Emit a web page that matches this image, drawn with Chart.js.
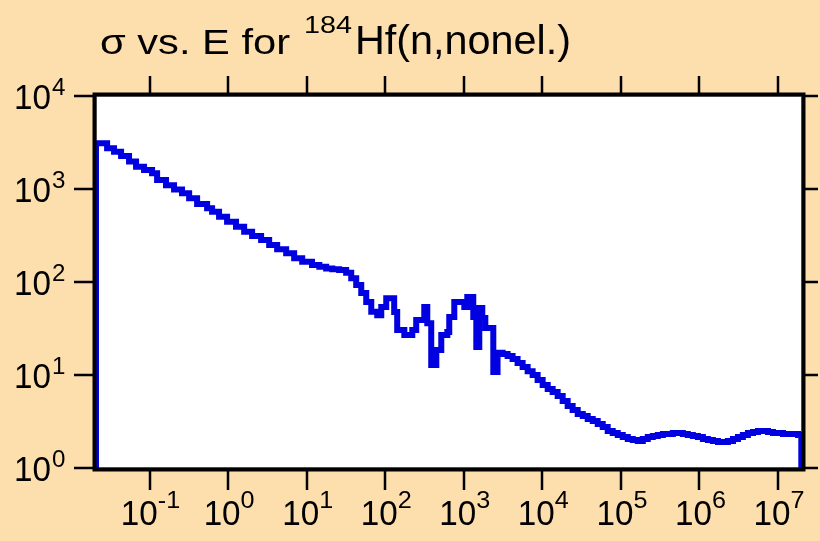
<!DOCTYPE html>
<html>
<head>
<meta charset="utf-8">
<script src="https://cdn.jsdelivr.net/npm/chart.js@4"></script>
<style>
body { margin: 0; background: #fddead; }
canvas { display: block; }
</style>
</head>
<body>
<canvas id="chart" width="820" height="541"></canvas>
<script>
// neutron energy (eV) and nonelastic cross section (b)
const energies = [0.0205, 0.0208, 0.0288, 0.0353, 0.0434, 0.0548, 0.0673, 0.0851, 0.1076, 0.1247,
    0.162, 0.205, 0.259, 0.319, 0.403, 0.540, 0.625, 0.767, 0.97, 1.26,
    1.60, 2.02, 2.63, 3.33, 4.21, 5.48, 6.93, 8.77, 11.7, 14.5,
    17.7, 21.2, 25.9, 31.8, 36.9, 42.7, 49.5, 57.3, 66.4, 79.1,
    89, 103, 130, 142, 175, 221, 248, 314, 343, 385,
    447, 517, 617, 653, 757, 1015, 1108, 1320, 1443, 1575,
    1720, 1880, 2375, 2690, 3120, 3610, 4180, 4840, 5610, 6500,
    7520, 8710, 10090, 11700, 13520, 15670, 18150, 21000, 24300, 28200,
    32700, 37800, 43800, 50700, 58700, 67900, 78700, 91200, 105600, 122300,
    141600, 164000, 190000, 219800, 254700, 295000, 342000, 395600, 458000, 531000,
    615000, 711000, 824000, 955000, 1.106e6, 1.28e6, 1.48e6, 1.72e6, 1.99e6, 2.30e6,
    2.67e6, 3.09e6, 3.57e6, 4.14e6, 4.80e6, 5.56e6, 6.43e6, 7.45e6, 8.63e6, 1.0e7,
    1.157e7, 1.34e7, 1.55e7, 1.80e7, 1.98e7];
const crossSections = [0.5, 3100, 2740, 2520, 2260, 1970, 1740, 1600, 1475, 1250,
    1100, 990, 900, 795, 690, 620, 570, 504, 445, 393,
    348, 313, 283, 250, 225, 204, 180, 165, 152, 146,
    140, 137, 135, 126, 110, 93, 76, 61, 48, 44,
    54, 67, 47.5, 30.5, 27, 30.5, 39, 54, 36, 12.8,
    18.6, 27, 29, 42, 61, 54, 69, 42, 20, 52.5,
    41, 32, 10.8, 17.3, 16.8, 16.0, 14.9, 13.5, 12.2, 11.0,
    10.0, 8.83, 7.80, 7.07, 6.56, 5.94, 5.25, 4.64, 4.21, 3.81,
    3.62, 3.36, 3.20, 2.97, 2.76, 2.50, 2.38, 2.26, 2.15, 2.05,
    2.00, 1.95, 2.05, 2.15, 2.21, 2.26, 2.32, 2.32, 2.38, 2.38,
    2.32, 2.26, 2.21, 2.15, 2.05, 2.00, 1.95, 1.90, 1.90, 1.95,
    2.05, 2.15, 2.26, 2.38, 2.44, 2.50, 2.50, 2.44, 2.38, 2.38,
    2.32, 2.32, 2.32, 2.26, 0.5];

const xExponents = [-1, 0, 1, 2, 3, 4, 5, 6, 7];
const yExponents = [0, 1, 2, 3, 4];

const titleStart = 'σ vs. E for';
const titleMass = '184';
const titleEnd = 'Hf(n,nonel.)';

const FONT = '"Liberation Sans", Arial, sans-serif';

function textWidth(ctx, text, size, sx) {
    ctx.font = size + 'px ' + FONT;
    return ctx.measureText(text).width * sx;
}

function drawText(ctx, text, x, y, size, sx) {
    ctx.save();
    ctx.font = size + 'px ' + FONT;
    ctx.translate(x, y);
    ctx.scale(sx, 1);
    ctx.fillText(text, 0, 0);
    ctx.restore();
}

function fitText(ctx, text, x, y, size, width) {
    const w = textWidth(ctx, text, size, 1);
    drawText(ctx, text, x, y, size, width / w);
}

const framePlugin = {
    id: 'frame',
    beforeDraw(chart) {
        const ctx = chart.ctx;
        const a = chart.chartArea;
        ctx.save();
        ctx.fillStyle = '#fddead';
        ctx.fillRect(0, 0, chart.width, chart.height);
        ctx.fillStyle = '#ffffff';
        ctx.fillRect(a.left, a.top, a.right - a.left, a.bottom - a.top);
        ctx.strokeStyle = '#9a9a9a';
        ctx.lineWidth = 1;
        ctx.strokeRect(a.left + 0.5, a.top + 0.5, a.right - a.left - 1, a.bottom - a.top - 1);
        ctx.restore();
    },
    afterDatasetsDraw(chart) {
        const ctx = chart.ctx;
        const a = chart.chartArea;
        const xs = chart.scales.x;
        const ys = chart.scales.y;
        ctx.save();

        // frame
        ctx.strokeStyle = '#000';
        ctx.lineWidth = 4;
        ctx.strokeRect(a.left - 1.5, a.top - 1.5, a.right - a.left + 3, a.bottom - a.top + 3);

        // tick marks, outside on all four sides
        ctx.lineWidth = 2.5;
        ctx.beginPath();
        xExponents.forEach(e => {
            const px = Math.round(xs.getPixelForValue(Math.pow(10, e)));
            ctx.moveTo(px, a.bottom + 2);
            ctx.lineTo(px, a.bottom + 22);
            ctx.moveTo(px, a.top - 2);
            ctx.lineTo(px, a.top - 20);
        });
        yExponents.forEach(e => {
            const py = Math.round(ys.getPixelForValue(Math.pow(10, e)));
            ctx.moveTo(a.left - 2, py);
            ctx.lineTo(a.left - 22, py);
            ctx.moveTo(a.right + 2, py);
            ctx.lineTo(a.right + 16, py);
        });
        ctx.stroke();

        // tick labels 10^n
        ctx.fillStyle = '#000';
        ctx.textBaseline = 'alphabetic';
        const w10 = textWidth(ctx, '10', 35, 0.95);
        xExponents.forEach(e => {
            const px = xs.getPixelForValue(Math.pow(10, e));
            const wExp = textWidth(ctx, String(e), 24, 1.05);
            const x0 = px - (w10 + wExp) / 2 + 1;
            drawText(ctx, '10', x0, 525, 35, 0.95);
            drawText(ctx, String(e), x0 + w10, 508, 24, 1.05);
        });
        yExponents.forEach(e => {
            const py = ys.getPixelForValue(Math.pow(10, e));
            drawText(ctx, '10', 14, py + 12.5, 35, 0.95);
            drawText(ctx, String(e), 14 + w10 + 1, py - 1, 23, 1.05);
        });

        // title
        fitText(ctx, titleStart, 100, 54, 35, 190);
        fitText(ctx, titleMass, 304, 33, 24, 48);
        fitText(ctx, titleEnd, 355, 54, 41, 216);

        ctx.restore();
    }
};

const points = energies.map((e, i) => ({ x: e, y: crossSections[i] }));

new Chart(document.getElementById('chart'), {
    type: 'line',
    data: {
        datasets: [{
            data: points,
            borderColor: '#0000e0',
            borderWidth: 6,
            pointRadius: 0,
            stepped: 'before',
            fill: false,
            borderJoinStyle: 'miter'
        }]
    },
    options: {
        responsive: false,
        animation: false,
        layout: { padding: { left: 96, top: 96, right: 18, bottom: 73 } },
        plugins: {
            legend: { display: false },
            tooltip: { enabled: false }
        },
        scales: {
            x: { type: 'logarithmic', min: 0.0208, max: 2.02e7, display: false },
            y: { type: 'logarithmic', min: 1, max: 1e4, display: false }
        }
    },
    plugins: [framePlugin]
});
</script>
</body>
</html>
